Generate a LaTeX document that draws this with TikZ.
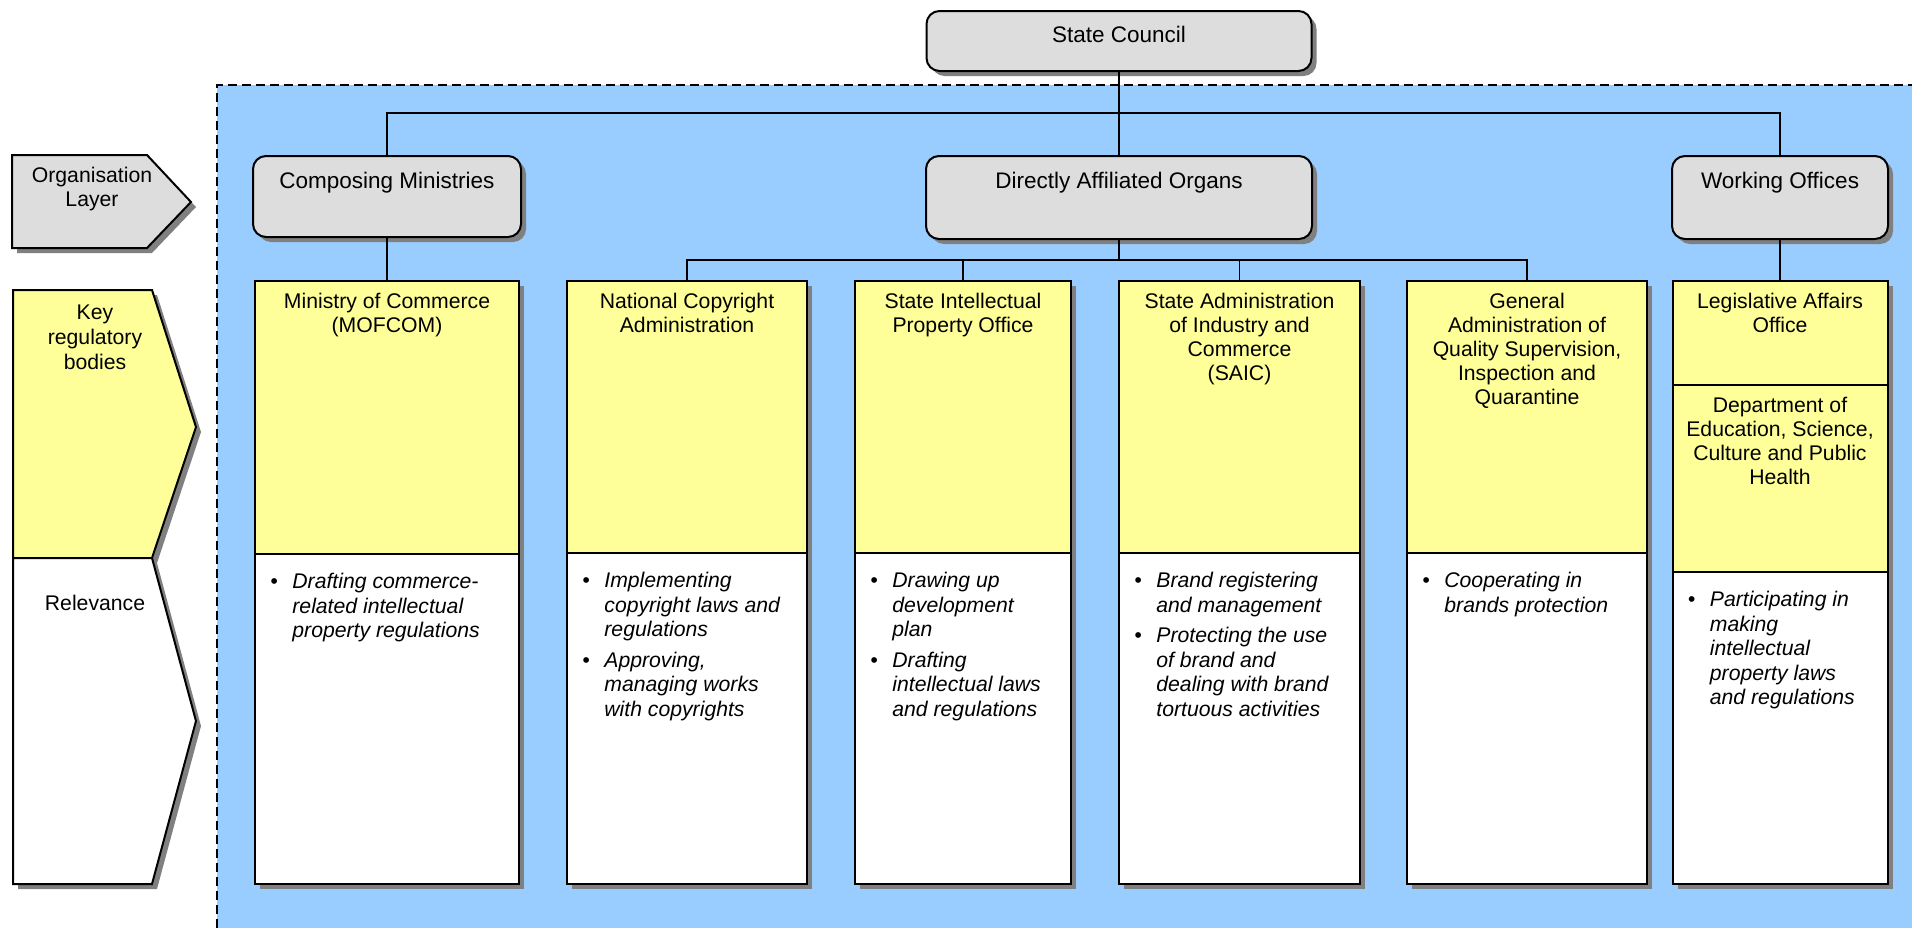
\documentclass[tikz,border=0pt]{standalone}
\usepackage{fontspec}
\setmainfont{Liberation Sans}
\usepackage{tikz}
\usetikzlibrary{positioning, shadows, calc}
\usepackage{xcolor}
\definecolor{orgblue}{HTML}{99CCFF}
\definecolor{orgyellow}{HTML}{FFFF99}
\definecolor{orggrey}{HTML}{DDDDDD}
\definecolor{orgshadow}{HTML}{808080}
\newcommand{\boxfont}{\fontsize{10.6}{12}\selectfont}
\newcommand{\headfont}{\fontsize{11.25}{13}\selectfont}
\newcommand{\listfont}{\fontsize{10.6}{12.25}\selectfont\itshape}
\tikzset{
  orgshade/.style={drop shadow={shadow xshift=2.5pt, shadow yshift=-2.5pt,
                   fill=orgshadow, opacity=1}},
  headbox/.style={draw=black, line width=1pt, fill=orggrey, rounded corners=6.5pt,
                  orgshade, inner sep=0pt, outer sep=0pt},
  keybox/.style={draw=black, line width=1pt, fill=orgyellow, orgshade,
                 anchor=north, inner sep=0pt, outer sep=0pt},
  relbox/.style={keybox, fill=white},
  sidebox/.style={draw=black, line width=1pt, orgshade},
  headtext/.style={font=\headfont, anchor=north, inner sep=0pt},
  boxtext/.style={font=\boxfont, align=center, anchor=north, inner sep=0pt},
  bullets/.style={font=\listfont, anchor=north west, inner sep=0pt},
  conn/.style={line width=0.6pt},
  regionline/.style={line width=0.7pt, dash pattern=on 4.5pt off 2.5pt}
}

\begin{document}
\begin{tikzpicture}[x=0.5pt, y=-0.5pt]
  \useasboundingbox (0,0) rectangle (1912,928);
  % blue region
  \fill[orgblue] (217,85) rectangle (1912,928);
  \draw[regionline] (217,928) -- (217,85) -- (1912,85);

  % side labels
  \draw[sidebox, fill=orggrey] (12,155) -- (147,155) -- (191,202) -- (147,248) -- (12,248) -- cycle;
  \draw[sidebox, fill=orgyellow] (13,290) -- (152,290) -- (196,427) -- (152,558) -- (13,558) -- cycle;
  \draw[sidebox, fill=white] (13,558) -- (152,558) -- (196,721) -- (152,884) -- (13,884) -- cycle;
  \node[boxtext] (orglbl) at (92,167) {Organisation\\Layer};
  \node[boxtext, font=\fontsize{10.6}{12.3}\selectfont] (keylbl) at (95,305) {Key\\regulatory\\bodies};
  \node[boxtext] (rellbl) at (95,595) {Relevance};

  % organisation layer
  \node[headbox, minimum width=192.5pt, minimum height=30pt] (sc) at (1119,41) {};
  \node[headtext] (sct) at ($(sc.north)+(0,15)$) {State Council};
  \node[headbox, minimum width=134pt, minimum height=40.5pt] (cm) at (387,196.5) {};
  \node[headtext] (cmt) at ($(cm.north)+(0,16)$) {Composing Ministries};
  \node[headbox, minimum width=193pt, minimum height=41.5pt] (dao) at (1119,197.5) {};
  \node[headtext] (daot) at ($(dao.north)+(0,16)$) {Directly Affiliated Organs};
  \node[headbox, minimum width=108pt, minimum height=41.5pt] (wo) at (1780,197.5) {};
  \node[headtext] (wot) at ($(wo.north)+(0,16)$) {Working Offices};

  % key regulatory bodies
  \node[keybox, minimum width=132pt, minimum height=136.5pt] (mof) at (387,281) {};
  \node[relbox, minimum width=132pt, minimum height=165pt, below=0pt of mof] (mofr) {};
  \node[keybox, minimum width=120pt, minimum height=136pt] (nca) at (687,281) {};
  \node[relbox, minimum width=120pt, minimum height=165.5pt, below=0pt of nca] (ncar) {};
  \node[keybox, minimum width=108pt, minimum height=136pt] (sipo) at (963,281) {};
  \node[relbox, minimum width=108pt, minimum height=165.5pt, below=0pt of sipo] (sipor) {};
  \node[keybox, minimum width=120.5pt, minimum height=136pt] (saic) at (1239.5,281) {};
  \node[relbox, minimum width=120.5pt, minimum height=165.5pt, below=0pt of saic] (saicr) {};
  \node[keybox, minimum width=120pt, minimum height=136pt] (aqsiq) at (1527,281) {};
  \node[relbox, minimum width=120pt, minimum height=165.5pt, below=0pt of aqsiq] (aqsiqr) {};
  \node[keybox, minimum width=107.5pt, minimum height=52pt] (lao) at (1780,281) {};
  \node[keybox, minimum width=107.5pt, minimum height=93.5pt, below=0pt of lao] (laod) {};
  \node[relbox, minimum width=107.5pt, minimum height=156pt, below=0pt of laod] (laor) {};

  \node[boxtext] (moft) at ($(mof.north)+(0,12)$) {Ministry of Commerce\\(MOFCOM)};
  \node[boxtext] (ncat) at ($(nca.north)+(0,12)$) {National Copyright\\Administration};
  \node[boxtext] (sipot) at ($(sipo.north)+(0,12)$) {State Intellectual\\Property Office};
  \node[boxtext] (saict) at ($(saic.north)+(0,12)$) {State Administration\\of Industry and\\Commerce\\(SAIC)};
  \node[boxtext] (aqsiqt) at ($(aqsiq.north)+(0,12)$) {General\\Administration of\\Quality Supervision,\\Inspection and\\Quarantine};
  \node[boxtext] (laot) at ($(lao.north)+(0,12)$) {Legislative Affairs\\Office};
  \node[boxtext] (laodt) at ($(laod.north)+(0,12)$) {Department of\\Education, Science,\\Culture and Public\\Health};

  % relevance
  \node[bullets] (mofl) at ($(mofr.north west)+(15,17)$) {\begin{tabular}{@{}p{11pt}@{}l@{}}
    \textbullet & Drafting commerce-\\ & related intellectual\\ & property regulations
  \end{tabular}};
  \node[bullets] (ncal) at ($(ncar.north west)+(15,17)$) {\begin{tabular}{@{}p{11pt}@{}l@{}}
    \textbullet & Implementing\\ & copyright laws and\\ & regulations\\[3pt]
    \textbullet & Approving,\\ & managing works\\ & with copyrights
  \end{tabular}};
  \node[bullets] (sipol) at ($(sipor.north west)+(15,17)$) {\begin{tabular}{@{}p{11pt}@{}l@{}}
    \textbullet & Drawing up\\ & development\\ & plan\\[3pt]
    \textbullet & Drafting\\ & intellectual laws\\ & and regulations
  \end{tabular}};
  \node[bullets] (saicl) at ($(saicr.north west)+(15,17)$) {\begin{tabular}{@{}p{11pt}@{}l@{}}
    \textbullet & Brand registering\\ & and management\\[3pt]
    \textbullet & Protecting the use\\ & of brand and\\ & dealing with brand\\ & tortuous activities
  \end{tabular}};
  \node[bullets] (aqsiql) at ($(aqsiqr.north west)+(15,17)$) {\begin{tabular}{@{}p{11pt}@{}l@{}}
    \textbullet & Cooperating in\\ & brands protection
  \end{tabular}};
  \node[bullets] (laol) at ($(laor.north west)+(15,17)$) {\begin{tabular}{@{}p{11pt}@{}l@{}}
    \textbullet & Participating in\\ & making\\ & intellectual\\ & property laws\\ & and regulations
  \end{tabular}};

  % connectors
  \coordinate (topbus) at (1119,113);
  \coordinate (midbus) at (1119,260);
  \draw[conn] (sc.south) -- (dao.north);
  \draw[conn] (cm.north) |- (topbus) -| (wo.north);
  \draw[conn] (cm.south) -- (mof.north);
  \draw[conn] (wo.south) -- (lao.north);
  \draw[conn] (dao.south) -- (midbus);
  \draw[conn] (nca.north) |- (midbus) -| (aqsiq.north);
  \draw[conn] (sipo.north) -- (sipo.north |- midbus);
  \draw[conn] (saic.north) -- (saic.north |- midbus);
\end{tikzpicture}
\end{document}
